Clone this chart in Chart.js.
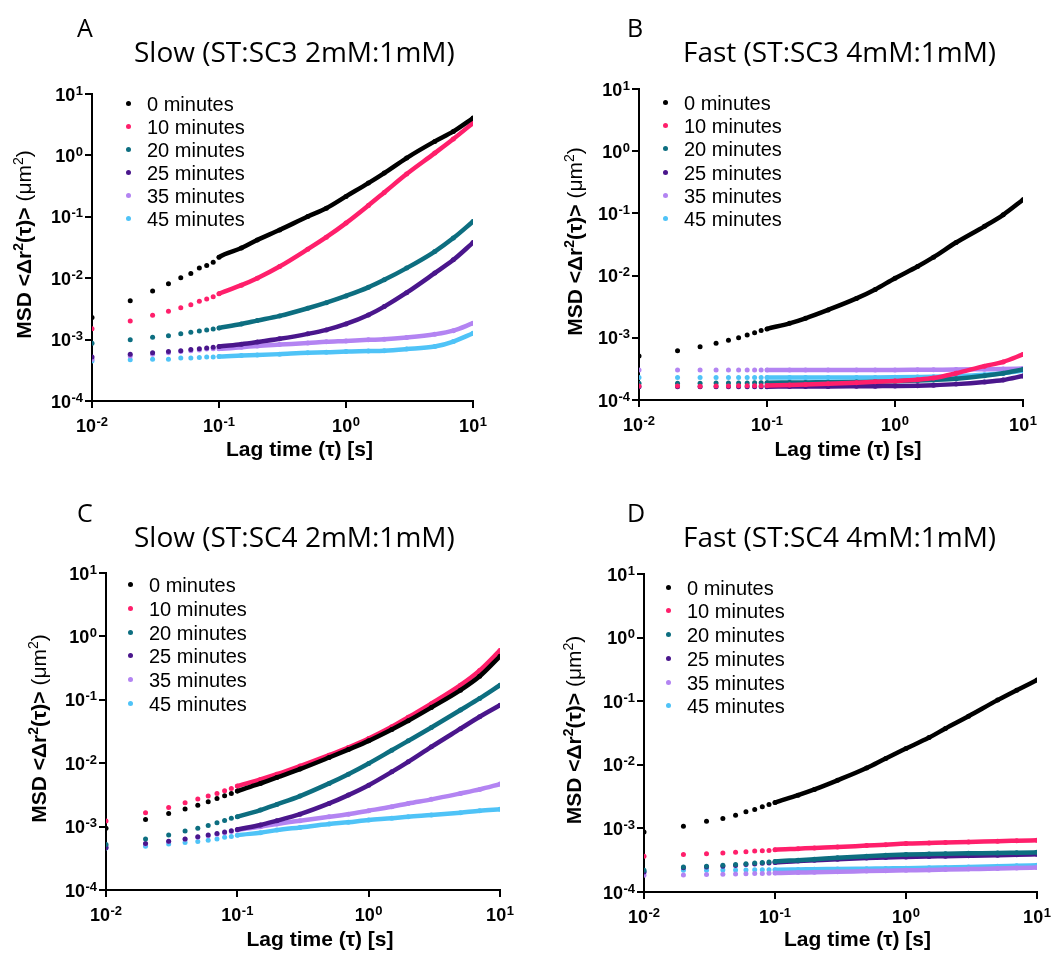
<!DOCTYPE html>
<html>
<head>
<meta charset="utf-8">
<script src="https://cdn.jsdelivr.net/npm/chart.js@4"></script>
<style>
  body { margin: 0; background: #fff; }
  #page { position: relative; width: 1052px; height: 953px; overflow: hidden; }
  .panel { position: absolute; }
  .panel canvas { position: absolute; left: 0; top: 0; }
  .letter { position: absolute; font: 25px "Open Sans", sans-serif; line-height: 1; color: #000; }
  .title { position: absolute; font: 28px "Open Sans", sans-serif; line-height: 1; color: #000; white-space: nowrap; }
  .legend-row { position: absolute; font: 20px "Liberation Sans", Arial, sans-serif; line-height: 1; color: #000; white-space: nowrap; }
  .legend-dot { position: absolute; width: 5px; height: 5px; border-radius: 50%; }
</style>
</head>
<body>
<div id="page"></div>
<script>
// lag times (s) the curves were read at
const lagTimes = [0.01, 0.02, 0.03, 0.04, 0.05, 0.06, 0.07, 0.08, 0.09, 0.1,
  0.15, 0.2, 0.3, 0.5, 0.7, 1, 1.5, 2, 3, 5, 7, 10];

const seriesLabels = ["0 minutes", "10 minutes", "20 minutes", "25 minutes", "35 minutes", "45 minutes"];
const seriesColors = ["#000000", "#ff1f6b", "#0d6e80", "#4a168c", "#b384f2", "#4fc3f7"];

const xTickValues = [0.01, 0.1, 1, 10];
const yTickValues = [0.0001, 0.001, 0.01, 0.1, 1, 10];

// A: Slow (ST:SC3 2mM:1mM)
const slowSC3_0 = [2.3e-3, 4.3e-3, 6.2e-3, 8.1e-3, 1.02e-2, 1.19e-2, 1.46e-2, 1.61e-2, 1.82e-2, 2.2e-2,
  3.1e-2, 4.2e-2, 6.1e-2, 0.101, 0.138, 0.215, 0.354, 0.515, 0.906, 1.69, 2.46, 4.06];
const slowSC3_10 = [1.5e-3, 2.0e-3, 2.5e-3, 2.9e-3, 3.3e-3, 3.7e-3, 4.2e-3, 4.6e-3, 5.0e-3, 5.6e-3,
  7.7e-3, 1.0e-2, 1.55e-2, 2.97e-2, 4.66e-2, 7.9e-2, 0.153, 0.249, 0.497, 1.09, 1.85, 3.37];
const slowSC3_20 = [8.7e-4, 9.9e-4, 1.09e-3, 1.16e-3, 1.25e-3, 1.32e-3, 1.38e-3, 1.44e-3, 1.49e-3, 1.55e-3,
  1.8e-3, 2.04e-3, 2.43e-3, 3.24e-3, 4.0e-3, 5.15e-3, 7.1e-3, 9.4e-3, 1.46e-2, 2.72e-2, 4.5e-2, 8.4e-2];
const slowSC3_25 = [5.2e-4, 5.8e-4, 6.1e-4, 6.4e-4, 6.6e-4, 6.9e-4, 7.1e-4, 7.3e-4, 7.5e-4, 7.7e-4,
  8.4e-4, 9.1e-4, 1.03e-3, 1.24e-3, 1.44e-3, 1.8e-3, 2.52e-3, 3.45e-3, 5.8e-3, 1.21e-2, 1.99e-2, 3.8e-2];
const slowSC3_35 = [4.8e-4, 5.4e-4, 5.8e-4, 6.1e-4, 6.4e-4, 6.6e-4, 6.8e-4, 7.0e-4, 7.1e-4, 7.1e-4,
  7.5e-4, 7.9e-4, 8.3e-4, 8.8e-4, 9.2e-4, 9.5e-4, 9.9e-4, 1.01e-3, 1.08e-3, 1.22e-3, 1.4e-3, 1.85e-3];
const slowSC3_45 = [4.5e-4, 4.7e-4, 4.8e-4, 4.8e-4, 5.0e-4, 5.0e-4, 5.1e-4, 5.2e-4, 5.2e-4, 5.3e-4,
  5.5e-4, 5.6e-4, 5.8e-4, 6.1e-4, 6.2e-4, 6.4e-4, 6.5e-4, 6.6e-4, 7.0e-4, 7.7e-4, 9.3e-4, 1.27e-3];

// B: Fast (ST:SC3 4mM:1mM)
const fastSC3_0 = [5.1e-4, 6.2e-4, 7.2e-4, 8.2e-4, 9.1e-4, 1.0e-3, 1.11e-3, 1.21e-3, 1.31e-3, 1.39e-3,
  1.71e-3, 2.06e-3, 2.81e-3, 4.3e-3, 6.0e-3, 9.1e-3, 1.4e-2, 1.98e-2, 3.4e-2, 6.2e-2, 9.5e-2, 0.166];
const fastSC3_10 = [1.68e-4, 1.68e-4, 1.67e-4, 1.68e-4, 1.68e-4, 1.69e-4, 1.69e-4, 1.7e-4, 1.7e-4, 1.71e-4,
  1.74e-4, 1.77e-4, 1.82e-4, 1.9e-4, 1.96e-4, 2.02e-4, 2.12e-4, 2.25e-4, 2.69e-4, 3.5e-4, 4.1e-4, 5.4e-4];
const fastSC3_20 = [1.86e-4, 1.86e-4, 1.86e-4, 1.87e-4, 1.87e-4, 1.88e-4, 1.88e-4, 1.89e-4, 1.89e-4, 1.9e-4,
  1.91e-4, 1.92e-4, 1.93e-4, 1.95e-4, 1.97e-4, 2.0e-4, 2.05e-4, 2.1e-4, 2.2e-4, 2.45e-4, 2.7e-4, 3.1e-4];
const fastSC3_25 = [1.64e-4, 1.64e-4, 1.64e-4, 1.64e-4, 1.64e-4, 1.64e-4, 1.64e-4, 1.64e-4, 1.64e-4, 1.64e-4,
  1.65e-4, 1.65e-4, 1.65e-4, 1.66e-4, 1.67e-4, 1.68e-4, 1.7e-4, 1.73e-4, 1.8e-4, 1.95e-4, 2.1e-4, 2.43e-4];
const fastSC3_35 = [3.04e-4, 3.04e-4, 3.04e-4, 3.04e-4, 3.04e-4, 3.04e-4, 3.04e-4, 3.04e-4, 3.04e-4, 3.04e-4,
  3.04e-4, 3.04e-4, 3.04e-4, 3.04e-4, 3.05e-4, 3.05e-4, 3.06e-4, 3.07e-4, 3.08e-4, 3.12e-4, 3.15e-4, 3.2e-4];
const fastSC3_45 = [2.29e-4, 2.29e-4, 2.29e-4, 2.29e-4, 2.29e-4, 2.29e-4, 2.29e-4, 2.29e-4, 2.29e-4, 2.29e-4,
  2.29e-4, 2.3e-4, 2.3e-4, 2.31e-4, 2.31e-4, 2.32e-4, 2.34e-4, 2.36e-4, 2.42e-4, 2.55e-4, 2.7e-4, 2.95e-4];

// C: Slow (ST:SC4 2mM:1mM)
const slowSC4_0 = [9.4e-4, 1.3e-3, 1.61e-3, 1.89e-3, 2.18e-3, 2.47e-3, 2.78e-3, 3.06e-3, 3.33e-3, 3.63e-3,
  4.8e-3, 5.96e-3, 8.07e-3, 1.23e-2, 1.64e-2, 2.25e-2, 3.4e-2, 4.66e-2, 7.55e-2, 0.142, 0.235, 0.486];
const slowSC4_10 = [1.22e-3, 1.65e-3, 2.01e-3, 2.38e-3, 2.72e-3, 3.03e-3, 3.33e-3, 3.67e-3, 4.0e-3, 4.35e-3,
  5.55e-3, 6.7e-3, 9.0e-3, 1.34e-2, 1.77e-2, 2.45e-2, 3.75e-2, 5.3e-2, 8.7e-2, 0.17, 0.29, 0.6];
const slowSC4_20 = [5.2e-4, 6.4e-4, 7.4e-4, 8.5e-4, 9.4e-4, 1.04e-3, 1.15e-3, 1.25e-3, 1.35e-3, 1.43e-3,
  1.82e-3, 2.24e-3, 3.03e-3, 4.8e-3, 6.7e-3, 9.9e-3, 1.6e-2, 2.25e-2, 3.66e-2, 6.9e-2, 0.105, 0.17];
const slowSC4_25 = [4.65e-4, 5.4e-4, 5.9e-4, 6.4e-4, 6.9e-4, 7.4e-4, 7.8e-4, 8.2e-4, 8.6e-4, 9.0e-4,
  1.06e-3, 1.24e-3, 1.57e-3, 2.32e-3, 3.14e-3, 4.5e-3, 7.3e-3, 1.05e-2, 1.81e-2, 3.5e-2, 5.4e-2, 8.2e-2];
const slowSC4_35 = [4.9e-4, 5.3e-4, 5.8e-4, 6.3e-4, 6.8e-4, 7.2e-4, 7.6e-4, 8.0e-4, 8.4e-4, 8.8e-4,
  9.95e-4, 1.1e-3, 1.24e-3, 1.43e-3, 1.57e-3, 1.78e-3, 2.06e-3, 2.32e-3, 2.69e-3, 3.33e-3, 3.86e-3, 4.68e-3];
const slowSC4_45 = [4.6e-4, 4.9e-4, 5.3e-4, 5.6e-4, 5.8e-4, 6.1e-4, 6.4e-4, 6.8e-4, 7.0e-4, 7.3e-4,
  8.0e-4, 8.8e-4, 9.7e-4, 1.1e-3, 1.17e-3, 1.27e-3, 1.35e-3, 1.43e-3, 1.52e-3, 1.66e-3, 1.78e-3, 1.87e-3];

// D: Fast (ST:SC4 4mM:1mM)
const fastSC4_0 = [8.8e-4, 1.08e-3, 1.29e-3, 1.43e-3, 1.61e-3, 1.82e-3, 1.98e-3, 2.18e-3, 2.37e-3, 2.55e-3,
  3.33e-3, 4.1e-3, 5.7e-3, 8.9e-3, 1.26e-2, 1.8e-2, 2.69e-2, 3.72e-2, 5.8e-2, 0.104, 0.149, 0.215];
const fastSC4_10 = [3.65e-4, 3.87e-4, 4.0e-4, 4.1e-4, 4.2e-4, 4.3e-4, 4.4e-4, 4.45e-4, 4.5e-4, 4.63e-4,
  4.8e-4, 4.93e-4, 5.1e-4, 5.37e-4, 5.55e-4, 5.77e-4, 5.9e-4, 6.0e-4, 6.1e-4, 6.3e-4, 6.4e-4, 6.5e-4];
const fastSC4_20 = [2.19e-4, 2.48e-4, 2.55e-4, 2.63e-4, 2.7e-4, 2.79e-4, 2.85e-4, 2.92e-4, 2.96e-4, 3.03e-4,
  3.16e-4, 3.27e-4, 3.45e-4, 3.65e-4, 3.77e-4, 3.87e-4, 3.95e-4, 4.0e-4, 4.05e-4, 4.1e-4, 4.15e-4, 4.2e-4];
const fastSC4_25 = [2.07e-4, 2.4e-4, 2.48e-4, 2.55e-4, 2.62e-4, 2.7e-4, 2.76e-4, 2.82e-4, 2.86e-4, 2.92e-4,
  3.06e-4, 3.15e-4, 3.28e-4, 3.42e-4, 3.5e-4, 3.56e-4, 3.62e-4, 3.66e-4, 3.72e-4, 3.8e-4, 3.86e-4, 3.92e-4];
const fastSC4_35 = [1.83e-4, 1.85e-4, 1.88e-4, 1.9e-4, 1.92e-4, 1.94e-4, 1.95e-4, 1.96e-4, 1.97e-4, 1.99e-4,
  2.02e-4, 2.05e-4, 2.08e-4, 2.13e-4, 2.16e-4, 2.19e-4, 2.22e-4, 2.25e-4, 2.29e-4, 2.34e-4, 2.38e-4, 2.42e-4];
const fastSC4_45 = [2.07e-4, 2.19e-4, 2.2e-4, 2.21e-4, 2.22e-4, 2.22e-4, 2.23e-4, 2.23e-4, 2.24e-4, 2.24e-4,
  2.26e-4, 2.28e-4, 2.3e-4, 2.33e-4, 2.35e-4, 2.37e-4, 2.4e-4, 2.43e-4, 2.47e-4, 2.53e-4, 2.58e-4, 2.63e-4];

// panel layout: container box, then chart area edges inside it
const panels = [
  { letter: "A", title: "Slow (ST:SC3 2mM:1mM)", series: [slowSC3_0, slowSC3_10, slowSC3_20, slowSC3_25, slowSC3_35, slowSC3_45],
    box: [0, 0, 526, 470], pad: { left: 0, right: 53, top: 94, bottom: 5 }, yW: 92, xH: 64, xTitleY: 450, yTitleX: 23,
    letterPos: [77, 15], titlePos: [134, 37], legend: { dotX: 128, textX: 147, y: [103, 126, 149, 172, 195, 218] } },
  { letter: "B", title: "Fast (ST:SC3 4mM:1mM)", series: [fastSC3_0, fastSC3_10, fastSC3_20, fastSC3_25, fastSC3_35, fastSC3_45],
    box: [526, 0, 526, 470], pad: { left: 0, right: 29, top: 89, bottom: 5 }, yW: 113, xH: 65, xTitleY: 450, yTitleX: 48,
    letterPos: [627, 15], titlePos: [683, 37], legend: { dotX: 665, textX: 684, y: [102, 125, 148, 172, 195, 218] } },
  { letter: "C", title: "Slow (ST:SC4 2mM:1mM)", series: [slowSC4_0, slowSC4_10, slowSC4_20, slowSC4_25, slowSC4_35, slowSC4_45],
    box: [0, 470, 526, 483], pad: { left: 0, right: 26, top: 103, bottom: 0 }, yW: 106, xH: 63, xTitleY: 470, yTitleX: 38,
    letterPos: [77, 500], titlePos: [134, 522], legend: { dotX: 130, textX: 149, y: [584, 608, 632, 655, 679, 703] } },
  { letter: "D", title: "Fast (ST:SC4 4mM:1mM)", series: [fastSC4_0, fastSC4_10, fastSC4_20, fastSC4_25, fastSC4_35, fastSC4_45],
    box: [526, 470, 526, 483], pad: { left: 0, right: 15, top: 104, bottom: 0 }, yW: 118, xH: 61, xTitleY: 470, yTitleX: 47,
    letterPos: [627, 500], titlePos: [683, 522], legend: { dotX: 668, textX: 687, y: [587, 610, 634, 658, 682, 705] } }
];

const fontFamily = "'Liberation Sans', Arial, sans-serif";

// "10" with a raised exponent, as the axis tick labels are drawn in the figure
function drawPower(ctx, value, x, y, align) {
  const exp = String(Math.round(Math.log10(value)));
  ctx.font = "bold 18px " + fontFamily;
  const wb = ctx.measureText("10").width;
  ctx.font = "bold 13px " + fontFamily;
  const we = ctx.measureText(exp).width;
  const total = wb + we + 0.5;
  const x0 = align === "center" ? x - total / 2 : x - total;
  ctx.textAlign = "left";
  ctx.textBaseline = "alphabetic";
  ctx.font = "bold 18px " + fontFamily;
  ctx.fillText("10", x0, y + 6.5);
  ctx.font = "bold 13px " + fontFamily;
  ctx.fillText(exp, x0 + wb + 0.5, y + 0.5);
}

// y title: bold MSD part, plain unit part, raised squares
const yTitleParts = [
  { t: "MSD <\u0394r", w: "bold", sup: false },
  { t: "2", w: "bold", sup: true },
  { t: "(\u03C4)> ", w: "bold", sup: false },
  { t: "(\u03BCm", w: "normal", sup: false },
  { t: "2", w: "normal", sup: true },
  { t: ")", w: "normal", sup: false }
];

function drawYTitle(ctx, cx, cy) {
  const fontOf = part => part.w + " " + (part.sup ? 14 : 21) + "px " + fontFamily;
  let total = 0;
  yTitleParts.forEach(part => { ctx.font = fontOf(part); total += ctx.measureText(part.t).width; });
  ctx.save();
  ctx.translate(cx, cy);
  ctx.rotate(-Math.PI / 2);
  ctx.textAlign = "left";
  ctx.textBaseline = "alphabetic";
  let x = -total / 2;
  yTitleParts.forEach(part => {
    ctx.font = fontOf(part);
    ctx.fillText(part.t, x, part.sup ? -0.5 : 7.5);
    x += ctx.measureText(part.t).width;
  });
  ctx.restore();
}

const axisText = {
  id: "axisText",
  afterDraw(chart) {
    const ctx = chart.ctx;
    const xs = chart.scales.x;
    const ys = chart.scales.y;
    const p = chart.options.plugins.axisText;
    ctx.save();
    ctx.fillStyle = "#000";
    xTickValues.forEach(v => drawPower(ctx, v, xs.getPixelForValue(v), xs.top + 24.5, "center"));
    yTickValues.forEach(v => drawPower(ctx, v, ys.right - 9, ys.getPixelForValue(v), "right"));
    ctx.font = "bold 21px " + fontFamily;
    ctx.textAlign = "center";
    ctx.textBaseline = "middle";
    ctx.fillText("Lag time (\u03C4) [s]", (xs.left + xs.right) / 2 + 17, p.xTitleY);
    drawYTitle(ctx, p.yTitleX, (ys.top + ys.bottom) / 2 - 3);
    ctx.restore();
  }
};

const page = document.getElementById("page");

panels.forEach(p => {
  const div = document.createElement("div");
  div.className = "panel";
  div.style.left = p.box[0] + "px";
  div.style.top = p.box[1] + "px";
  div.style.width = p.box[2] + "px";
  div.style.height = p.box[3] + "px";
  const canvas = document.createElement("canvas");
  canvas.width = p.box[2];
  canvas.height = p.box[3];
  div.appendChild(canvas);
  page.appendChild(div);

  const letter = document.createElement("div");
  letter.className = "letter";
  letter.textContent = p.letter;
  letter.style.left = p.letterPos[0] + "px";
  letter.style.top = p.letterPos[1] + "px";
  page.appendChild(letter);

  const title = document.createElement("div");
  title.className = "title";
  title.textContent = p.title;
  title.style.left = p.titlePos[0] + "px";
  title.style.top = p.titlePos[1] + "px";
  page.appendChild(title);

  seriesLabels.forEach((name, i) => {
    const dot = document.createElement("div");
    dot.className = "legend-dot";
    dot.style.background = seriesColors[i];
    dot.style.left = (p.legend.dotX - 2.5) + "px";
    dot.style.top = (p.legend.y[i] - 2.5) + "px";
    page.appendChild(dot);
    const row = document.createElement("div");
    row.className = "legend-row";
    row.textContent = name;
    row.style.left = p.legend.textX + "px";
    row.style.top = (p.legend.y[i] - 9.5) + "px";
    page.appendChild(row);
  });

  const datasets = p.series.map((vals, i) => ({
    label: seriesLabels[i],
    data: lagTimes.map((t, k) => ({ x: t, y: vals[k] })),
    showLine: true,
    borderColor: seriesColors[i],
    backgroundColor: seriesColors[i],
    borderWidth: 4.5,
    borderCapStyle: "round",
    borderJoinStyle: "round",
    cubicInterpolationMode: "monotone",
    pointRadius: 2.5,
    pointBorderWidth: 0,
    pointHoverRadius: 2.5,
    // sparse early points stay as separate dots, the dense tail reads as a band
    segment: { borderColor: ctx => ctx.p0DataIndex < 9 ? "rgba(0,0,0,0)" : undefined }
  }));

  new Chart(canvas.getContext("2d"), {
    type: "scatter",
    data: { datasets },
    plugins: [axisText],
    options: {
      responsive: false,
      animation: false,
      layout: { padding: p.pad },
      plugins: {
        legend: { display: false },
        tooltip: { enabled: false },
        axisText: { xTitleY: p.xTitleY, yTitleX: p.yTitleX }
      },
      scales: {
        x: {
          type: "logarithmic", min: 0.01, max: 10,
          afterBuildTicks: s => { s.ticks = xTickValues.map(v => ({ value: v })); },
          afterFit: s => { s.height = p.xH; },
          ticks: { callback: () => "", padding: 0, maxRotation: 0, autoSkip: false },
          grid: { drawOnChartArea: false, drawTicks: true, tickLength: 7, color: "#000", lineWidth: 2 },
          border: { display: true, color: "#000", width: 2 }
        },
        y: {
          type: "logarithmic", min: 0.0001, max: 10,
          afterBuildTicks: s => { s.ticks = yTickValues.map(v => ({ value: v })); },
          afterFit: s => { s.width = p.yW; },
          ticks: { callback: () => "", padding: 0, autoSkip: false },
          grid: { drawOnChartArea: false, drawTicks: true, tickLength: 7, color: "#000", lineWidth: 2 },
          border: { display: true, color: "#000", width: 2 }
        }
      }
    }
  });
});
</script>
</body>
</html>
